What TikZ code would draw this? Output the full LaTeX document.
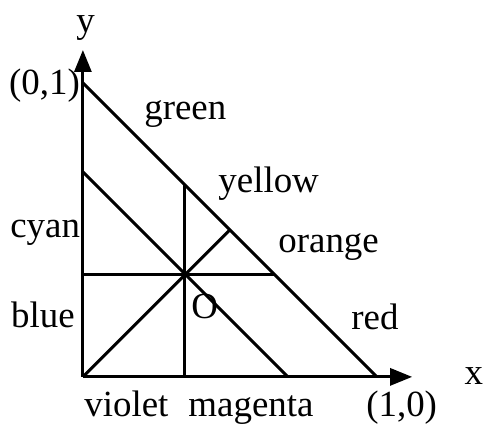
\documentclass[tikz,border=0pt]{standalone}
\usepackage{fontspec}
\setmainfont{Liberation Serif}
\usetikzlibrary{arrows.meta}

\begin{document}
\begin{tikzpicture}[x=5.88cm, y=5.88cm, line width=1.7pt,
  every node/.style={font=\fontsize{21}{25}\selectfont, inner sep=0pt, anchor=base west},
  axis/.style={-{Triangle[length=4.4mm, width=3.4mm]}}]
  \useasboundingbox (-0.282,-0.163) rectangle (1.361,1.282);
  \coordinate (Z) at (0,0);
  \coordinate (G) at (0,1);
  \coordinate (R) at (1,0);
  \coordinate (O) at (0.347,0.347);
  \coordinate (ytip) at (0,1.112);
  \coordinate (xtip) at (1.12,0);
  \coordinate (C) at (0,0.697);
  \coordinate (M) at (0.697,0);
  \coordinate (V) at (0.347,0);
  \coordinate (Y) at (0.347,0.653);
  \coordinate (B) at (0,0.347);
  \coordinate (Or) at (0.653,0.347);
  \coordinate (Ye) at (0.5,0.5);
  \draw[axis] (Z) -- (ytip);
  \draw[axis] (Z) -- (xtip);
  \draw (G) -- (R);
  \draw (C) -- (M);
  \draw (V) -- (Y);
  \draw (B) -- (Or);
  \draw (Z) -- (Ye);
  \node (ylab) at (-0.027,1.173) {y};
  \node (xlab) at (1.293,-0.027) {x};
  \node (glab) at (-0.256,0.959) {(0,1)};
  \node (rlab) at (0.959,-0.136) {(1,0)};
  \node (green) at (0.204,0.874) {green};
  \node (yellow) at (0.456,0.626) {yellow};
  \node (orange) at (0.66,0.422) {orange};
  \node (red) at (0.908,0.16) {red};
  \node (magenta) at (0.354,-0.136) {magenta};
  \node (violet) at (0.0,-0.136) {violet};
  \node (blue) at (-0.249,0.167) {blue};
  \node (cyan) at (-0.252,0.473) {cyan};
  \node (olab) at (0.364,0.197) {O};
\end{tikzpicture}
\end{document}
